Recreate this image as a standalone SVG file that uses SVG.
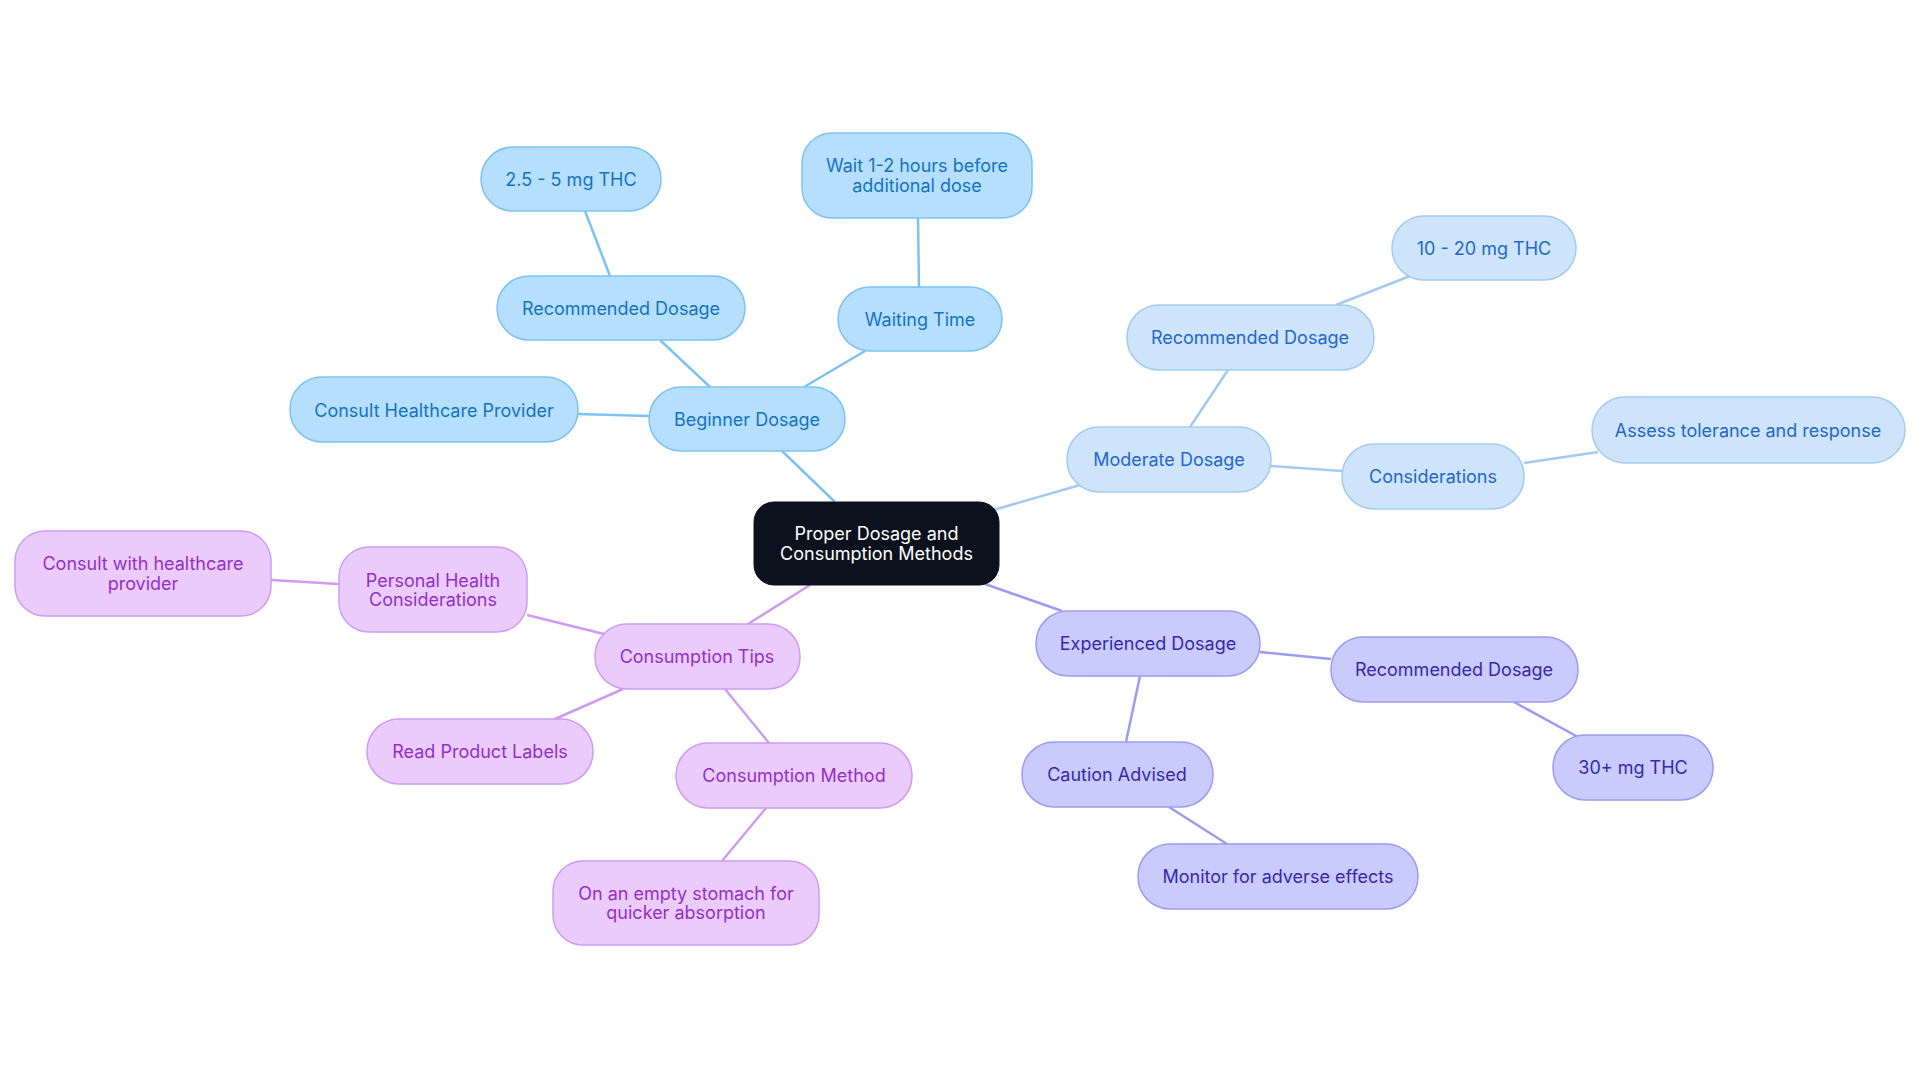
<svg xmlns="http://www.w3.org/2000/svg" width="1920" height="1083" viewBox="0 0 1920 1083">
<style>
text{font-family:Inter,"Noto Sans",sans-serif;font-size:18px;text-anchor:middle;dominant-baseline:central}
.b rect{fill:#b5dffd;stroke:#7cc3f3;stroke-width:1.5}.b text{fill:#1473bd}
.m rect{fill:#cde4fb;stroke:#a3cbf2;stroke-width:1.5}.m text{fill:#2467c9}
.e rect{fill:#c9cbfc;stroke:#9b9df0;stroke-width:1.5}.e text{fill:#3529a8}
.p rect{fill:#eacbfc;stroke:#cf9cf2;stroke-width:1.5}.p text{fill:#9330c4}
#edges line{stroke-width:2.5}
</style>
<rect width="1920" height="1083" fill="#fff"/>
<g id="edges">
<line x1="835" y1="502" x2="782" y2="451" stroke="#7cc3f3"/>
<line x1="710" y1="387" x2="660" y2="340" stroke="#7cc3f3"/>
<line x1="610" y1="276" x2="585" y2="211" stroke="#7cc3f3"/>
<line x1="804" y1="387" x2="865" y2="351" stroke="#7cc3f3"/>
<line x1="919" y1="287" x2="918" y2="218" stroke="#7cc3f3"/>
<line x1="649" y1="416" x2="578" y2="414" stroke="#7cc3f3"/>
<line x1="990" y1="511" x2="1080" y2="485" stroke="#a3cbf2"/>
<line x1="1190" y1="427" x2="1228" y2="370" stroke="#a3cbf2"/>
<line x1="1336" y1="305" x2="1410" y2="276" stroke="#a3cbf2"/>
<line x1="1271" y1="466" x2="1342" y2="471" stroke="#a3cbf2"/>
<line x1="1524" y1="463" x2="1598" y2="452" stroke="#a3cbf2"/>
<line x1="985" y1="584" x2="1062" y2="611" stroke="#9b9df0"/>
<line x1="1260" y1="652" x2="1331" y2="659" stroke="#9b9df0"/>
<line x1="1514" y1="702" x2="1578" y2="737" stroke="#9b9df0"/>
<line x1="1140" y1="676" x2="1126" y2="742" stroke="#9b9df0"/>
<line x1="1169" y1="807" x2="1227" y2="844" stroke="#9b9df0"/>
<line x1="810" y1="585" x2="748" y2="624" stroke="#cf9cf2"/>
<line x1="604" y1="634" x2="527" y2="615" stroke="#cf9cf2"/>
<line x1="339" y1="584" x2="271" y2="580" stroke="#cf9cf2"/>
<line x1="623" y1="689" x2="555" y2="719" stroke="#cf9cf2"/>
<line x1="725" y1="689" x2="769" y2="743" stroke="#cf9cf2"/>
<line x1="766" y1="808" x2="722" y2="861" stroke="#cf9cf2"/>
</g>
<g id="center"><rect x="754" y="502" width="245" height="83" rx="20" fill="#0b111d" stroke="#0b111d"/><text x="876.5" y="533" fill="#fff">Proper Dosage and</text><text x="876.5" y="553" fill="#fff">Consumption Methods</text></g>
<g id="beginner" class="b"><rect x="649" y="387" width="196" height="64" rx="32"/><text x="747" y="419">Beginner Dosage</text></g>
<g id="b-rec" class="b"><rect x="497" y="276" width="248" height="64" rx="32"/><text x="621" y="308">Recommended Dosage</text></g>
<g id="b-thc" class="b"><rect x="481" y="147" width="180" height="64" rx="32"/><text x="571" y="179">2.5 - 5 mg THC</text></g>
<g id="b-wait" class="b"><rect x="838" y="287" width="164" height="64" rx="32"/><text x="920" y="319">Waiting Time</text></g>
<g id="b-wait2" class="b"><rect x="802" y="133" width="230" height="85" rx="30"/><text x="917" y="165">Wait 1-2 hours before</text><text x="917" y="185">additional dose</text></g>
<g id="b-consult" class="b"><rect x="290" y="377" width="288" height="65" rx="32"/><text x="434" y="410">Consult Healthcare Provider</text></g>
<g id="moderate" class="m"><rect x="1067" y="427" width="204" height="65" rx="32"/><text x="1169" y="459">Moderate Dosage</text></g>
<g id="m-rec" class="m"><rect x="1127" y="305" width="247" height="65" rx="32"/><text x="1250" y="337">Recommended Dosage</text></g>
<g id="m-thc" class="m"><rect x="1392" y="216" width="184" height="64" rx="32"/><text x="1484" y="248">10 - 20 mg THC</text></g>
<g id="m-cons" class="m"><rect x="1342" y="444" width="182" height="65" rx="32"/><text x="1433" y="476">Considerations</text></g>
<g id="m-assess" class="m"><rect x="1592" y="397" width="313" height="66" rx="33"/><text x="1748" y="430">Assess tolerance and response</text></g>
<g id="experienced" class="e"><rect x="1036" y="611" width="224" height="65" rx="32"/><text x="1148" y="643">Experienced Dosage</text></g>
<g id="e-rec" class="e"><rect x="1331" y="637" width="247" height="65" rx="32"/><text x="1454" y="669">Recommended Dosage</text></g>
<g id="e-thc" class="e"><rect x="1553" y="735" width="160" height="65" rx="32"/><text x="1633" y="767">30+ mg THC</text></g>
<g id="e-caution" class="e"><rect x="1022" y="742" width="191" height="65" rx="32"/><text x="1117" y="774">Caution Advised</text></g>
<g id="e-monitor" class="e"><rect x="1138" y="844" width="280" height="65" rx="32"/><text x="1278" y="876">Monitor for adverse effects</text></g>
<g id="tips" class="p"><rect x="595" y="624" width="205" height="65" rx="32"/><text x="697" y="656">Consumption Tips</text></g>
<g id="p-health" class="p"><rect x="339" y="547" width="188" height="85" rx="30"/><text x="433" y="580">Personal Health</text><text x="433" y="599">Considerations</text></g>
<g id="p-consult" class="p"><rect x="15" y="531" width="256" height="85" rx="30"/><text x="143" y="563">Consult with healthcare</text><text x="143" y="583">provider</text></g>
<g id="p-labels" class="p"><rect x="367" y="719" width="226" height="65" rx="32"/><text x="480" y="751">Read Product Labels</text></g>
<g id="p-method" class="p"><rect x="676" y="743" width="236" height="65" rx="32"/><text x="794" y="775">Consumption Method</text></g>
<g id="p-stomach" class="p"><rect x="553" y="861" width="266" height="84" rx="30"/><text x="686" y="893">On an empty stomach for</text><text x="686" y="912">quicker absorption</text></g>
</svg>
